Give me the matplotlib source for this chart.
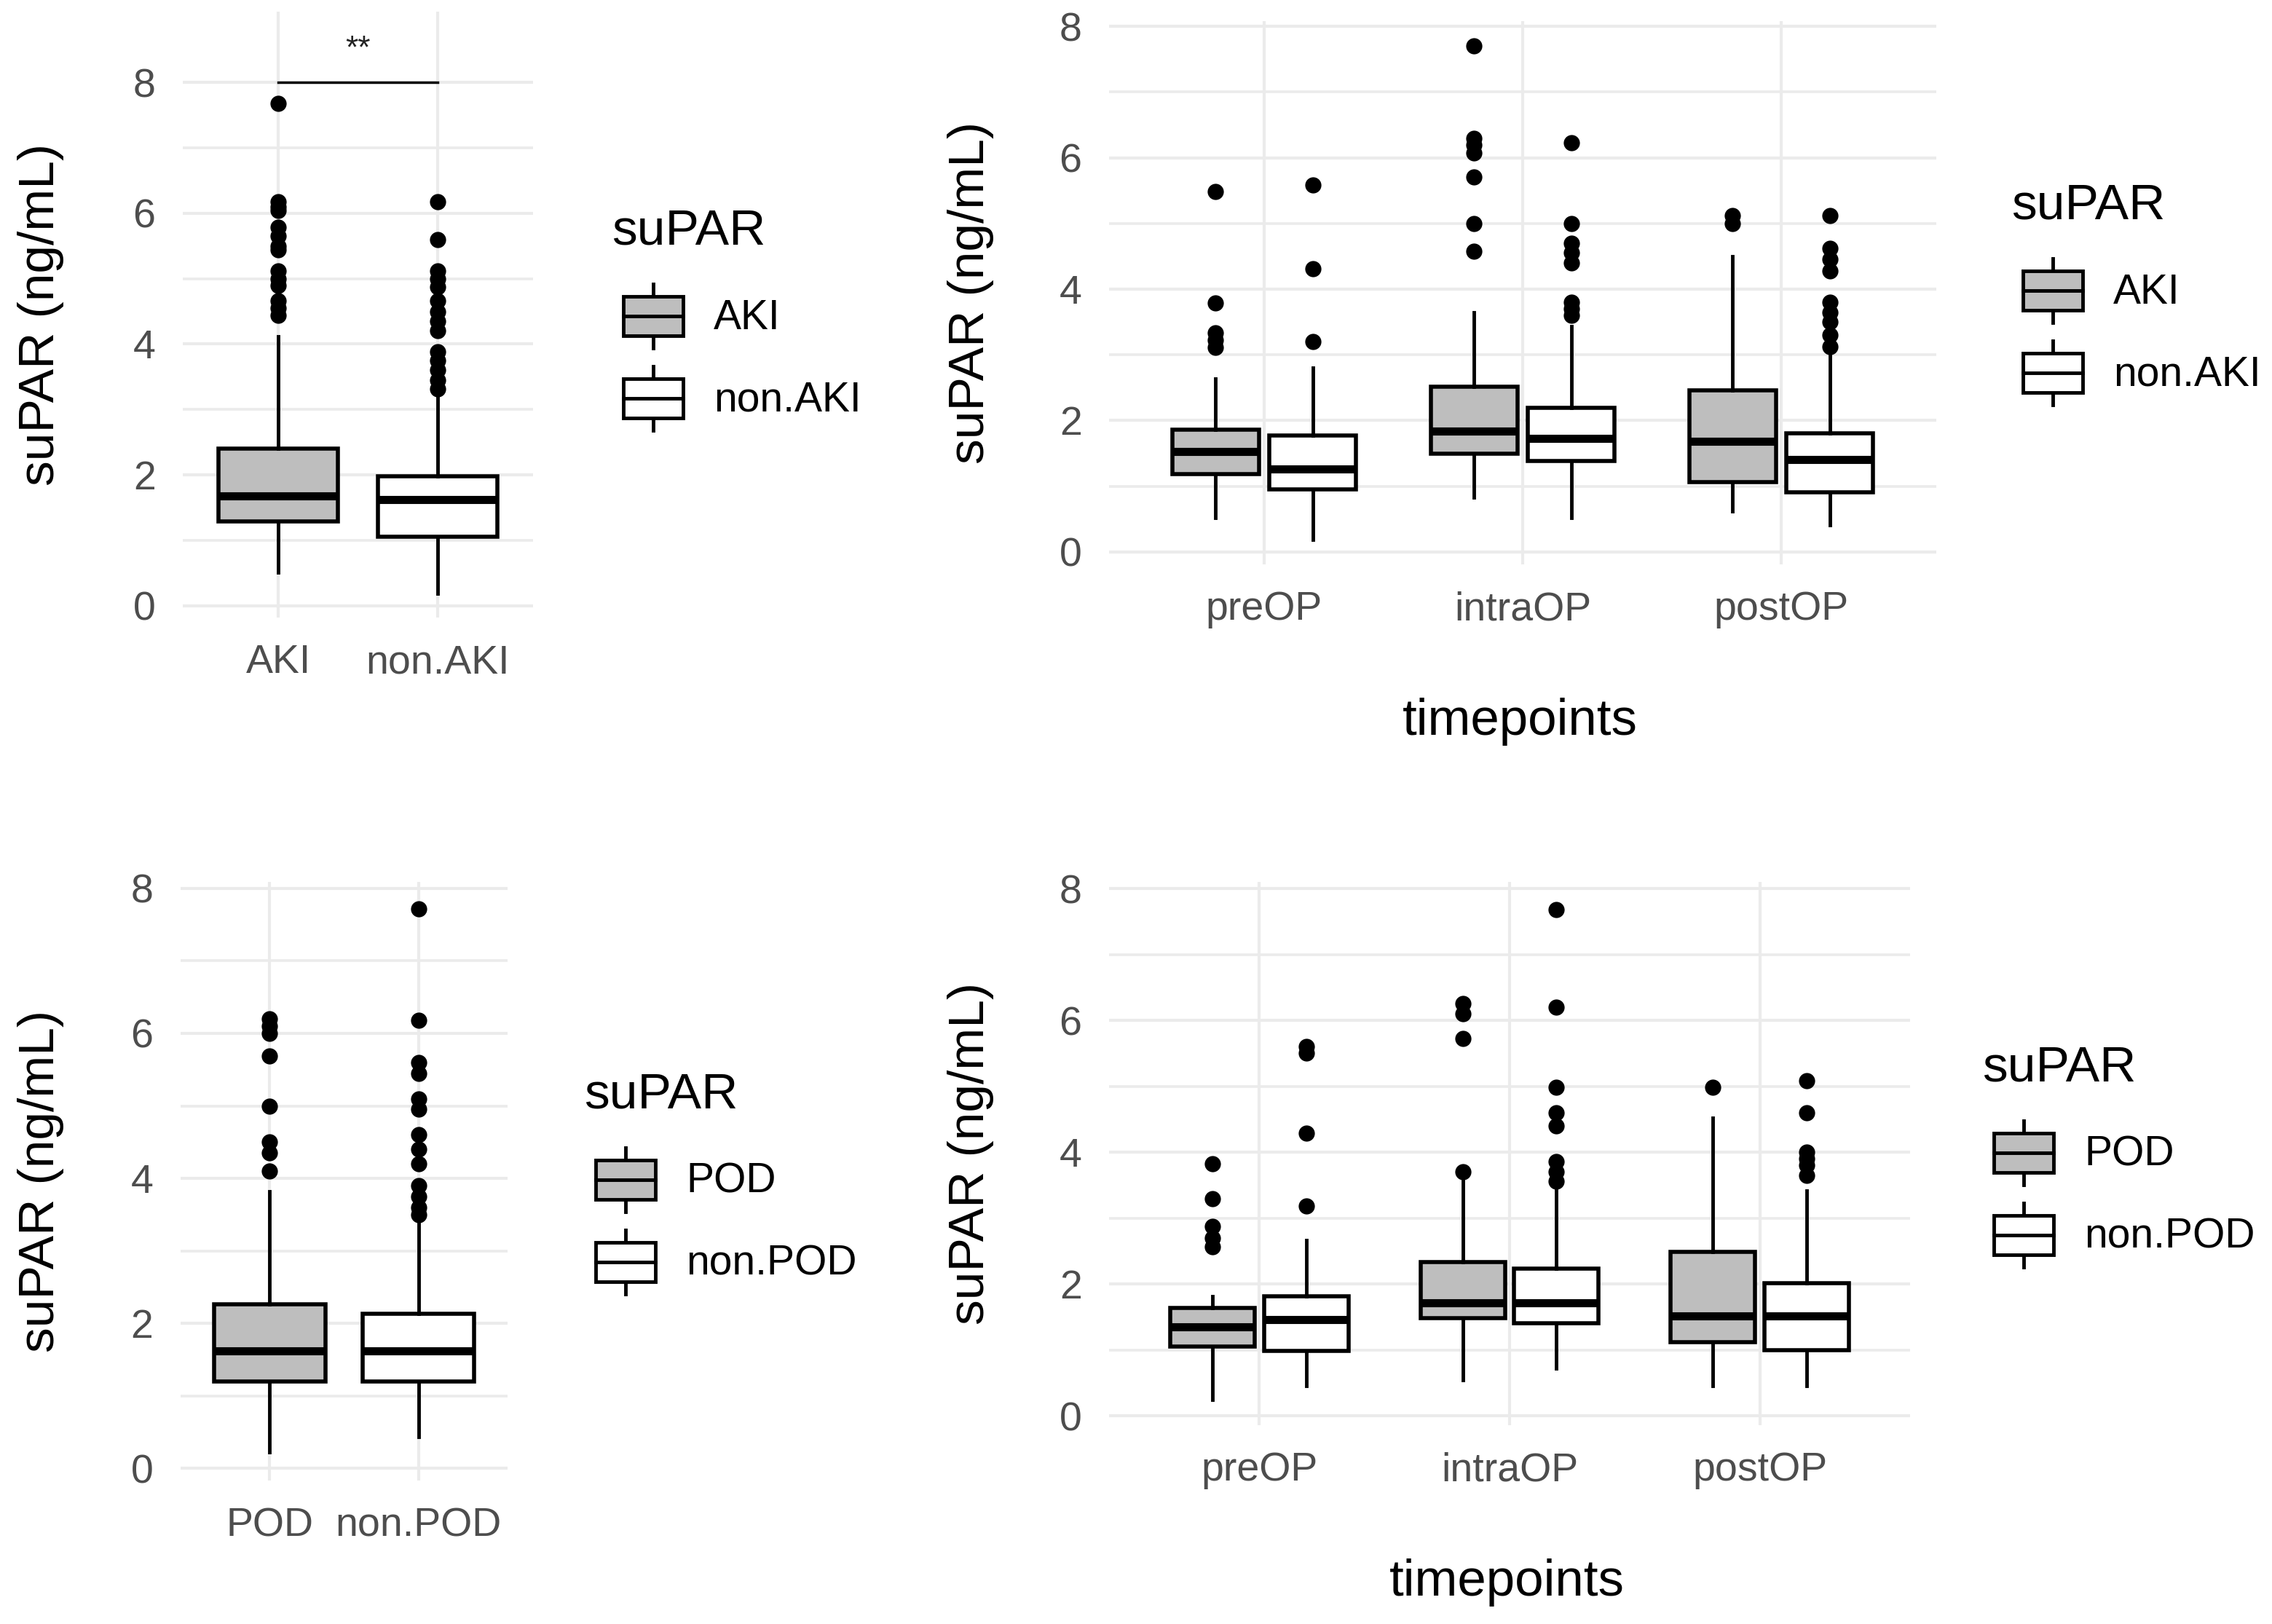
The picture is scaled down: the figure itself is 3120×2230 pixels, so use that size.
"""suPAR boxplots: AKI vs non.AKI and POD vs non.POD, overall and per timepoint."""
import matplotlib
matplotlib.use('Agg')
import matplotlib.pyplot as plt
from matplotlib.patches import Patch, Rectangle
from matplotlib.lines import Line2D
from matplotlib.legend_handler import HandlerBase

plt.rcParams['font.family'] = ['Liberation Sans', 'DejaVu Sans']

W, H = 3120, 2230
FILL = ['#BEBEBE', '#FFFFFF']

# ---- panel 1: AKI overall ----
aki_groups = ['AKI', 'non.AKI']
aki_q1 = [1.29, 1.06]
aki_med = [1.68, 1.62]
aki_q3 = [2.40, 1.98]
aki_lo = [0.51, 0.19]
aki_hi = [4.12, 3.24]
aki_out = [[7.68, 6.18, 6.10, 6.04, 5.79, 5.65, 5.50, 5.44, 5.12, 5.00, 4.90,
            4.66, 4.55, 4.44],
           [6.18, 5.60, 5.12, 5.00, 4.87, 4.66, 4.50, 4.35, 4.20, 3.88, 3.75,
            3.60, 3.45, 3.31]]

# ---- panel 2: AKI per timepoint ----
timepoints = ['preOP', 'intraOP', 'postOP']
akt_q1 = [[1.18, 1.49, 1.06], [0.95, 1.38, 0.91]]
akt_med = [[1.53, 1.84, 1.68], [1.26, 1.73, 1.41]]
akt_q3 = [[1.86, 2.51, 2.46], [1.77, 2.19, 1.81]]
akt_lo = [[0.52, 0.83, 0.62], [0.19, 0.52, 0.41]]
akt_hi = [[2.64, 3.65, 4.50], [2.80, 3.44, 3.07]]
akt_out = [[[5.49, 3.79, 3.33, 3.22, 3.11],
            [7.70, 6.30, 6.20, 6.07, 5.71, 5.00, 4.58],
            [5.12, 5.00]],
           [[5.59, 4.31, 3.20],
            [6.23, 5.00, 4.70, 4.55, 4.40, 3.80, 3.70, 3.60],
            [5.12, 4.62, 4.45, 4.28, 3.80, 3.65, 3.50, 3.30, 3.12]]]

# ---- panel 3: POD overall ----
pod_groups = ['POD', 'non.POD']
pod_q1 = [1.20, 1.20]
pod_med = [1.62, 1.62]
pod_q3 = [2.26, 2.13]
pod_lo = [0.22, 0.43]
pod_hi = [3.82, 3.39]
pod_out = [[6.20, 6.10, 6.00, 5.69, 5.00, 4.50, 4.35, 4.10],
           [7.72, 6.18, 5.60, 5.45, 5.10, 4.95, 4.60, 4.40, 4.20, 3.90, 3.75,
            3.60, 3.50]]

# ---- panel 4: POD per timepoint ----
pdt_q1 = [[1.05, 1.48, 1.12], [0.99, 1.41, 1.00]]
pdt_med = [[1.35, 1.72, 1.52], [1.46, 1.72, 1.52]]
pdt_q3 = [[1.64, 2.33, 2.49], [1.81, 2.23, 2.01]]
pdt_lo = [[0.25, 0.55, 0.46], [0.46, 0.72, 0.46]]
pdt_hi = [[1.82, 3.59, 4.52], [2.67, 3.42, 3.42]]
pdt_out = [[[3.82, 3.29, 2.87, 2.70, 2.57],
            [6.25, 6.10, 5.72, 3.70],
            [4.98]],
           [[5.60, 5.50, 4.29, 3.18],
            [7.68, 6.20, 4.98, 4.60, 4.40, 3.86, 3.70, 3.56],
            [5.09, 4.60, 4.00, 3.90, 3.80, 3.65]]]


class BoxKey(HandlerBase):
    """ggplot-style legend key: a tiny box with median and whisker stubs."""
    def create_artists(self, legend, orig_handle, xdescent, ydescent,
                       width, height, fontsize, trans):
        x0, y0 = -xdescent, -ydescent
        inset = width * 0.14
        bw = width - 2 * inset
        bh = height * 0.61
        by = y0 + (height - bh) / 2
        cx = x0 + width / 2
        kw = dict(color='black', lw=3.5, transform=trans)
        return [
            Line2D([cx, cx], [by + bh, y0 + height], **kw),
            Line2D([cx, cx], [y0, by], **kw),
            Rectangle((x0 + inset, by), bw, bh,
                      facecolor=orig_handle.get_facecolor(),
                      edgecolor='black', lw=3.5, transform=trans),
            Line2D([x0 + inset, x0 + inset + bw], [by + bh / 2] * 2, **kw),
        ]


def add_ax(fig, l, r, t, b):
    return fig.add_axes([l / W, 1 - b / H, (r - l) / W, (b - t) / H])


def draw_boxes(ax, stats, positions, width, fill):
    bp = ax.bxp(stats, positions=positions, widths=width,
                patch_artist=True, showcaps=False,
                boxprops=dict(facecolor=fill, edgecolor='black', lw=4),
                medianprops=dict(color='black', lw=8,
                                 solid_capstyle='butt'),
                whiskerprops=dict(color='black', lw=3.5),
                flierprops=dict(marker='o', markersize=16,
                                markerfacecolor='black',
                                markeredgewidth=0),
                manage_ticks=False, zorder=3)
    return bp


def style(ax, cats, ylim, ylab_x, xlab=None, xlab_y=None):
    ax.set_xlim(0.4, len(cats) + 0.6)
    ax.set_ylim(*ylim)
    ax.set_xticks(range(1, len(cats) + 1))
    ax.set_xticklabels(cats)
    ax.set_yticks([0, 2, 4, 6, 8])
    ax.set_yticks([1, 3, 5, 7], minor=True)
    ax.grid(True, which='major', color='#EBEBEB', lw=3)
    ax.grid(True, which='minor', axis='y', color='#EBEBEB', lw=2.6)
    ax.set_axisbelow(True)
    for s in ax.spines.values():
        s.set_visible(False)
    ax.tick_params(which='both', length=0, labelsize=40,
                   labelcolor='#4D4D4D')
    ax.tick_params(axis='x', pad=26)
    ax.tick_params(axis='y', pad=27)
    ax.set_ylabel('suPAR (ng/mL)', fontsize=50, color='black')
    ax.yaxis.label.set_va('center')
    ax.yaxis.set_label_coords(ylab_x, 0.5)
    if xlab:
        ax.set_xlabel(xlab, fontsize=51, color='black')
        ax.xaxis.label.set_va('center')
        ax.xaxis.set_label_coords(0.497, xlab_y)


def add_legend(fig, ax, labels, ux, uy):
    handles = [Patch(facecolor=FILL[0], edgecolor='black'),
               Patch(facecolor=FILL[1], edgecolor='black')]
    leg = ax.legend(handles, labels, title='suPAR', loc='upper left',
                    bbox_to_anchor=(ux / W, 1 - uy / H),
                    bbox_transform=fig.transFigure, frameon=False,
                    borderpad=0, fontsize=41, title_fontsize=50,
                    alignment='left', handlelength=2.0, handleheight=2.0,
                    handletextpad=0.45, labelspacing=0.44,
                    handler_map={Patch: BoxKey()})
    # a bit more air between the title and the keys, as in ggplot
    leg._legend_box.sep = 29
    return leg


def single_stats(q1, med, q3, lo, hi, out, i):
    return [dict(q1=q1[i], med=med[i], q3=q3[i], whislo=lo[i],
                 whishi=hi[i], fliers=out[i])]


def timed_stats(q1, med, q3, lo, hi, out, h):
    return [dict(q1=q1[h][j], med=med[h][j], q3=q3[h][j], whislo=lo[h][j],
                 whishi=hi[h][j], fliers=out[h][j])
            for j in range(len(q1[h]))]


fig = plt.figure(figsize=(W / 100, H / 100), dpi=100)

# panel 1
ax1 = add_ax(fig, 251, 732, 16, 848)
for i in range(2):
    draw_boxes(ax1, single_stats(aki_q1, aki_med, aki_q3, aki_lo, aki_hi,
                                 aki_out, i), [i + 1], 0.75, FILL[i])
ax1.plot([1, 2], [8, 8], color='black', lw=2.5, zorder=4)
ax1.text(1.5, 8.5, '**', ha='center', va='center', fontsize=32,
         color='#222222')
style(ax1, aki_groups, (-0.18, 9.08), -0.405)
add_legend(fig, ax1, aki_groups, 812, 257)

# panel 2
ax2 = add_ax(fig, 1523, 2659, 29, 775)
for h in range(2):
    pos = [j + 1 + (h - 0.5) * 0.375 for j in range(3)]
    draw_boxes(ax2, timed_stats(akt_q1, akt_med, akt_q3, akt_lo, akt_hi,
                                akt_out, h), pos, 0.3375, FILL[h])
style(ax2, timepoints, (-0.19, 8.08), -0.167, 'timepoints', -0.29)
add_legend(fig, ax2, aki_groups, 2734, 222)

# panel 3
ax3 = add_ax(fig, 248, 697, 1211, 2033)
for i in range(2):
    draw_boxes(ax3, single_stats(pod_q1, pod_med, pod_q3, pod_lo, pod_hi,
                                 pod_out, i), [i + 1], 0.75, FILL[i])
style(ax3, pod_groups, (-0.17, 8.09), -0.428)
add_legend(fig, ax3, pod_groups, 774, 1443)

# panel 4
ax4 = add_ax(fig, 1523, 2623, 1211, 1957)
for h in range(2):
    pos = [j + 1 + (h - 0.5) * 0.375 for j in range(3)]
    draw_boxes(ax4, timed_stats(pdt_q1, pdt_med, pdt_q3, pdt_lo, pdt_hi,
                                pdt_out, h), pos, 0.3375, FILL[h])
style(ax4, timepoints, (-0.14, 8.10), -0.173, 'timepoints', -0.29)
add_legend(fig, ax4, pod_groups, 2694, 1406)

fig.savefig('out.png', dpi=100, facecolor='white')
